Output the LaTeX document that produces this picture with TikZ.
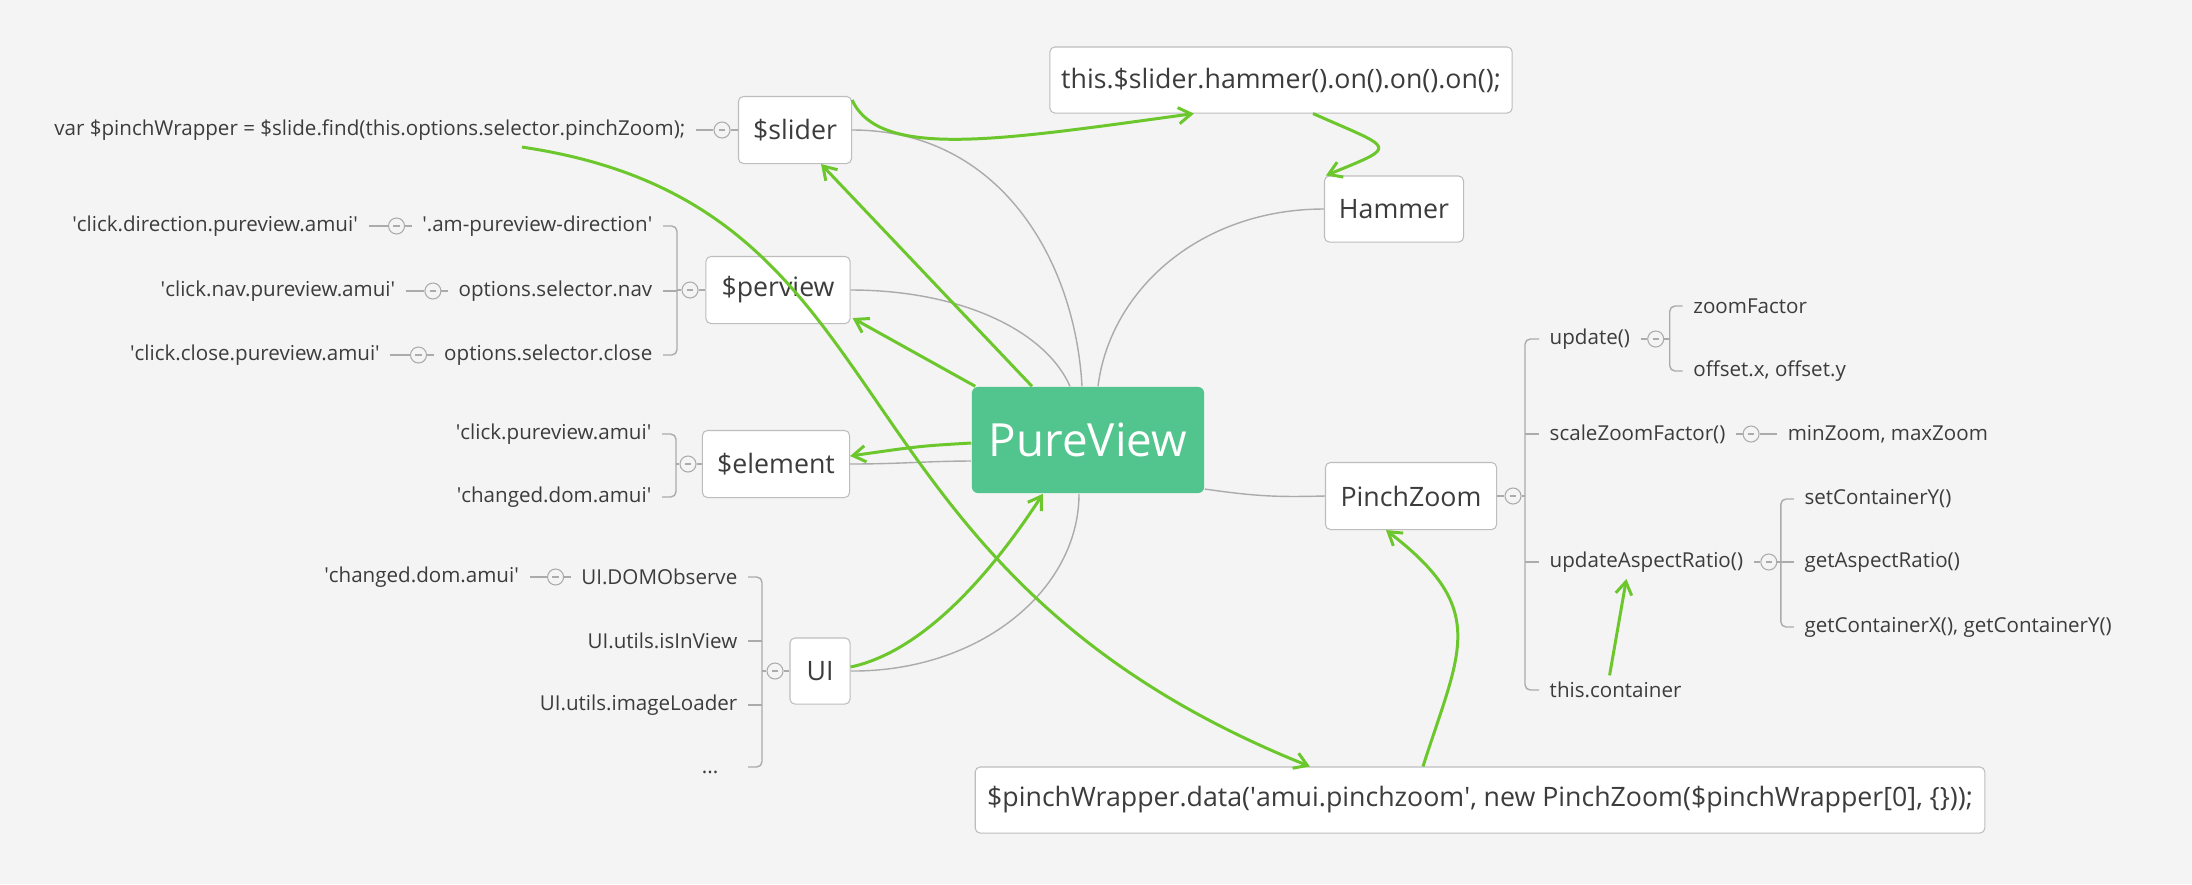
\documentclass[tikz,border=0pt]{standalone}
\usepackage{fontspec}
\setmainfont{Open Sans}
\usetikzlibrary{arrows.meta,calc}

\definecolor{bgcol}{HTML}{F4F4F4}
\definecolor{rootcol}{HTML}{52C48D}
\definecolor{inkcol}{HTML}{3C3C3C}
\definecolor{linkcol}{HTML}{6BC72B}
\definecolor{branchcol}{HTML}{ABABAB}
\definecolor{framecol}{HTML}{BDBDBD}
\newcommand{\sq}{\textquotesingle}

\tikzset{
  topic/.style={draw=framecol, fill=white, rounded corners=1.4pt, line width=0.3pt,
    text=inkcol, font=\fontsize{7.6}{9}\selectfont, inner sep=0pt},
  leaf/.style={text=inkcol, font=\fontsize{5.85}{7}\selectfont, inner xsep=0.1cm, inner ysep=0.06cm},
  fold/.style={circle, draw=branchcol, fill=bgcol, line width=0.3pt, minimum size=0.16cm, inner sep=0pt,
    path picture={\draw[branchcol, line width=0.3pt]
      ([xshift=-0.9pt]path picture bounding box.center) -- ([xshift=0.9pt]path picture bounding box.center);}},
  branch/.style={draw=branchcol, line width=0.4pt},
  ref/.style={draw=linkcol, line width=0.85pt, -{Straight Barb[length=3.6pt,width=4.6pt]}},
}

\begin{document}
\begin{tikzpicture}[x=0.01cm,y=-0.01cm]
\fill[bgcol] (0,0) rectangle (2192,884);
\useasboundingbox (0,0) rectangle (2192,884);

% central topic
\node[fill=rootcol, rounded corners=1.7pt, minimum width=2.32cm, minimum height=1.06cm,
  text=white, font=\fontsize{13}{15}\selectfont] (root) at (1088,440) {PureView};

% main topics
\node[topic, minimum width=1.13cm, minimum height=0.67cm] (slider) at (795,130) {\$slider};
\node[topic, minimum width=4.62cm, minimum height=0.66cm] (hammercall) at (1281,80) {this.\$slider.hammer().on().on().on();};
\node[topic, minimum width=1.39cm, minimum height=0.66cm] (hammer) at (1394,209) {Hammer};
\node[topic, minimum width=1.44cm, minimum height=0.67cm] (perview) at (778,290) {\$perview};
\node[topic, minimum width=1.47cm, minimum height=0.67cm] (element) at (776,464) {\$element};
\node[topic, minimum width=0.60cm, minimum height=0.66cm] (ui) at (820,671) {UI};
\node[topic, minimum width=1.71cm, minimum height=0.67cm] (pinchzoom) at (1411,496) {PinchZoom};
\node[topic, minimum width=10.09cm, minimum height=0.66cm] (pinchdata) at (1480,800)
  {\$pinchWrapper.data(\sq amui.pinchzoom\sq, new PinchZoom(\$pinchWrapper[0], \{\}));};

% branches from the root
\draw[branch] (slider.east) .. controls (1000,130) and (1075,260) .. ([xshift=-0.06cm]root.north);
\draw[branch] (perview.east) .. controls (960,290) and (1045,330) .. ([xshift=-0.18cm]root.north);
\draw[branch] (hammer.west) .. controls (1200,209) and (1110,290) .. ([xshift=0.1cm]root.north);
\draw[branch] (element.east) .. controls (900,464) and (930,461) .. ([yshift=-0.21cm]root.west);
\draw[branch] (ui.east) .. controls (980,672) and (1079,590) .. ([xshift=-0.09cm]root.south);
\draw[branch] ([yshift=-0.49cm]root.east) .. controls (1260,497) and (1280,497) .. (pinchzoom.west);

% $slider
\node[leaf, anchor=east] (pinchwrap) at (696,130) {var \$pinchWrapper = \$slide.find(this.options.selector.pinchZoom);};
\node[fold] (fslider) at (722,130) {};
\draw[branch] (pinchwrap.east) -- (fslider.west) (fslider.east) -- (slider.west);

% $perview
\node[leaf, anchor=east] (dirsel) at (663,226) {\sq.am-pureview-direction\sq};
\node[leaf, anchor=east] (navsel) at (663,291) {options.selector.nav};
\node[leaf, anchor=east] (closesel) at (663,355) {options.selector.close};
\node[fold] (fperview) at (690,290) {};
\draw[branch, rounded corners=1.5pt] (dirsel.east) -- (677,226) -- (677,355) -- (closesel.east);
\draw[branch] (navsel.east) -- (677,291);
\draw[branch] (677,290) -- (fperview.west) (fperview.east) -- (perview.west);

\node[fold] (fdir) at ([xshift=-0.15cm]dirsel.west) {};
\node[leaf, anchor=east] (dirclick) at ([xshift=-0.28cm]fdir.center) {\sq click.direction.pureview.amui\sq};
\draw[branch] (dirclick.east) -- (fdir.west) (fdir.east) -- (dirsel.west);
\node[fold] (fnav) at ([xshift=-0.15cm]navsel.west) {};
\node[leaf, anchor=east] (navclick) at ([xshift=-0.27cm]fnav.center) {\sq click.nav.pureview.amui\sq};
\draw[branch] (navclick.east) -- (fnav.west) (fnav.east) -- (navsel.west);
\node[fold] (fclose) at ([xshift=-0.15cm]closesel.west) {};
\node[leaf, anchor=east] (closeclick) at ([xshift=-0.28cm]fclose.center) {\sq click.close.pureview.amui\sq};
\draw[branch] (closeclick.east) -- (fclose.west) (fclose.east) -- (closesel.west);

% $element
\node[leaf, anchor=east] (clickpv) at (662,434) {\sq click.pureview.amui\sq};
\node[leaf, anchor=east] (changedel) at (662,497) {\sq changed.dom.amui\sq};
\node[fold] (felement) at (688,464) {};
\draw[branch, rounded corners=1.5pt] (clickpv.east) -- (676,434) -- (676,497) -- (changedel.east);
\draw[branch] (676,464) -- (felement.west) (felement.east) -- (element.west);

% UI
\node[leaf, anchor=east] (domobs) at (748,577) {UI.DOMObserve};
\node[leaf, anchor=east] (inview) at (748,641) {UI.utils.isInView};
\node[leaf, anchor=east] (imgload) at (748,705) {UI.utils.imageLoader};
\node[leaf, anchor=east] (more) at (729,772) {...};
\coordinate (moretick) at (748,767);
\node[fold] (fui) at (775,671) {};
\draw[branch, rounded corners=1.5pt] (domobs.east) -- (762,577) -- (762,767) -- (moretick);
\draw[branch] (inview.east) -- (762,641) (imgload.east) -- (762,705);
\draw[branch] (762,671) -- (fui.west) (fui.east) -- (ui.west);
\node[fold] (fdom) at ([xshift=-0.15cm]domobs.west) {};
\node[leaf, anchor=east] (changedui) at ([xshift=-0.26cm]fdom.center) {\sq changed.dom.amui\sq};
\draw[branch] (changedui.east) -- (fdom.west) (fdom.east) -- (domobs.west);

% PinchZoom
\node[fold] (fpinch) at (1513,496) {};
\node[leaf, anchor=west] (update) at (1539,339) {update()};
\node[leaf, anchor=west] (scale) at (1539,434) {scaleZoomFactor()};
\node[leaf, anchor=west] (aspect) at (1539,562) {updateAspectRatio()};
\node[leaf, anchor=west] (container) at (1539,690) {this.container};
\draw[branch] (pinchzoom.east) -- (fpinch.west) (fpinch.east) -- (1525,496);
\draw[branch, rounded corners=1.5pt] (update.west) -- (1525,339) -- (1525,690) -- (container.west);
\draw[branch] (scale.west) -- (1525,434) (aspect.west) -- (1525,562);

\node[fold] (fupdate) at ([xshift=0.15cm]update.east) {};
\coordinate (updbr) at ([xshift=0.14cm]fupdate.center);
\node[leaf, anchor=west] (zoomf) at ($(updbr)+(13,-33)$) {zoomFactor};
\node[leaf, anchor=west] (offset) at ($(updbr)+(13,32)$) {offset.x, offset.y};
\draw[branch] (update.east) -- (fupdate.west) (fupdate.east) -- (updbr);
\draw[branch, rounded corners=1.5pt] (zoomf.west) -| (updbr) |- (offset.west);

\node[fold] (fscale) at ([xshift=0.15cm]scale.east) {};
\node[leaf, anchor=west] (minmax) at ([xshift=0.26cm]fscale.center) {minZoom, maxZoom};
\draw[branch] (scale.east) -- (fscale.west) (fscale.east) -- (minmax.west);

\node[fold] (faspect) at ([xshift=0.15cm]aspect.east) {};
\coordinate (aspbr) at ([xshift=0.12cm]faspect.center);
\node[leaf, anchor=west] (setcy) at ($(aspbr)+(13,-63)$) {setContainerY()};
\node[leaf, anchor=west] (getar) at ($(aspbr)+(13,0)$) {getAspectRatio()};
\node[leaf, anchor=west] (getcxy) at ($(aspbr)+(13,65)$) {getContainerX(), getContainerY()};
\draw[branch] (aspect.east) -- (faspect.west) (faspect.east) -- (getar.west);
\draw[branch, rounded corners=1.5pt] (setcy.west) -| (aspbr) |- (getcxy.west);

% relations
\draw[ref] ([yshift=-0.04cm]slider.north east) .. controls (880,160) and (1000,140) .. ([xshift=-0.87cm]hammercall.south);
\draw[ref] ([xshift=0.32cm]hammercall.south) .. controls (1395,150) and (1400,145) .. ([xshift=0.02cm]hammer.north west);
\draw[ref] ([xshift=-0.56cm]root.north) -- ([xshift=0.26cm]slider.south);
\draw[ref] ([xshift=0.04cm]root.north west) -- ([shift={(0.02cm,0.06cm)}]perview.south east);
\draw[ref] ([yshift=-0.03cm]root.west) .. controls (920,446) .. ([yshift=0.08cm]element.east);
\draw[ref] ([yshift=0.04cm]ui.east) .. controls (930,650) and (1000,560) .. ([xshift=-0.45cm]root.south);
\draw[ref] ([xshift=-1.74cm]pinchwrap.south east) .. controls (922,206) and (810,566) .. ([xshift=-1.70cm]pinchdata.north);
\draw[ref] ([xshift=-0.57cm]pinchdata.north) .. controls (1460,650) and (1490,610) .. ([xshift=-0.25cm]pinchzoom.south);
\draw[ref] ([xshift=-0.06cm]container.north) -- ([xshift=-0.2cm]aspect.south);
\end{tikzpicture}
\end{document}
